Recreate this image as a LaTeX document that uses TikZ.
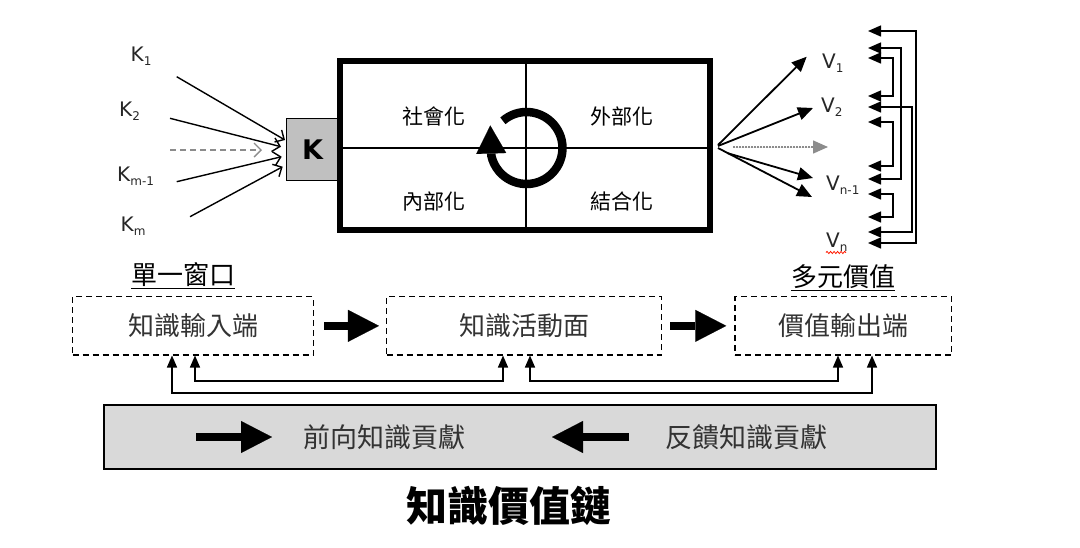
\documentclass[tikz,border=0pt]{standalone}
\usepackage{fontspec}
\setmainfont{DejaVu Sans}
\newfontfamily\cjk{Noto Sans CJK TC}
\usetikzlibrary{arrows.meta,decorations.pathmorphing,calc}
\newcommand{\fsz}[1]{\fontsize{#1pt}{#1pt}\selectfont}
\newcommand{\subt}[1]{\raisebox{-0.2em}{\fsz{12}#1}}
\definecolor{boxgray}{HTML}{C0C0C0}
\definecolor{bandgray}{HTML}{D9D9D9}
\definecolor{txtgray}{HTML}{333333}
\begin{document}
\begin{tikzpicture}[x=1pt,y=-1pt,
  lbl/.style={font=\fsz{20}, inner sep=0pt, anchor=base west, text=black!85},
  thinline/.style={line width=1.2pt},
  kin/.style={line width=1.4pt, -{Straight Barb[length=7pt,width=14pt]}},
  fan/.style={line width=1.8pt, -{Triangle[length=15pt,width=13pt]}},
  brk/.style={line width=1.4pt, {Triangle[length=13pt,width=11pt]}-{Triangle[length=13pt,width=11pt]}},
  fb/.style={line width=1.4pt, {Triangle[length=12pt,width=10pt]}-{Triangle[length=12pt,width=10pt]}},
  bigarrow/.style={line width=8.5pt, -{Triangle[length=31pt,width=32pt,line width=0.1pt]}},
  quad/.style={font=\cjk\fsz{21}, inner sep=0pt},
  dbox/.style={draw, line width=1.5pt, dash pattern=on 6pt off 4pt, minimum height=58.3pt, inner sep=0pt},
  btxt/.style={font=\cjk\fsz{26}, text=txtgray},
]
\useasboundingbox (0,0) rectangle (1080,547);

% ---------- K box and main box ----------
\node[draw, thinline, fill=boxgray, minimum width=51.6pt, minimum height=62.4pt, inner sep=0pt,
      font=\bfseries\fsz{27}] (kbox) at (312.5,149.5) {K};
\node[draw, line width=6pt, minimum width=370.3pt, minimum height=168.7pt, inner sep=0pt] (main) at (524.85,145.65) {};
\draw[thinline] (526,61.3) -- (526,230);
\draw[thinline] (339.7,148) -- (710,148);

\node[quad] (q1) at (433.5,116) {社會化};
\node[quad] (q2) at (622,116) {外部化};
\node[quad] (q3) at (433.5,201.5) {內部化};
\node[quad] (q4) at (622,201.5) {結合化};

% cycle arrow
\coordinate (cc) at (526.5,148);
\draw[line width=8.5pt, -{Triangle[length=28pt,width=30pt,line width=0.1pt]}]
  ($(cc)+(-131:36)$) arc[start angle=-131, end angle=168, radius=36] -- ++(-1,-30);

% ---------- K inputs ----------
\node[lbl] (k1) at (130.5,61.7) {K\subt{1}};
\node[lbl] (k2) at (119,116.7) {K\subt{2}};
\node[lbl] (k3) at (117,181.7) {K\subt{m-1}};
\node[lbl] (k4) at (120.5,231.7) {K\subt{m}};

\coordinate (ka1) at (176.7,76.7);  \coordinate (ke1) at (285,140);
\coordinate (ka2) at (170,118.3);   \coordinate (ke2) at (281,146.7);
\coordinate (kad) at (170,150);     \coordinate (ked) at (262,150);
\coordinate (ka3) at (176.7,181.7); \coordinate (ke3) at (281.7,156.7);
\coordinate (ka4) at (190,216.7);   \coordinate (ke4) at (282.7,166.7);
\draw[kin] (ka1) -- (ke1);
\draw[kin] (ka2) -- (ke2);
\draw[kin, draw=black!45, dash pattern=on 6pt off 4pt] (kad) -- (ked);
\draw[kin] (ka3) -- (ke3);
\draw[kin] (ka4) -- (ke4);

% ---------- V outputs ----------
\node[lbl] (v1) at (822,68) {V\subt{1}};
\node[lbl] (v2) at (821,112) {V\subt{2}};
\node[lbl] (v3) at (826,190) {V\subt{n-1}};
\node[lbl] (v4) at (826,247) {V\subt{n}};
\draw[red!80!orange, line width=0.8pt, decorate, decoration={snake, amplitude=1.1pt, segment length=3.5pt}] (826,252.5) -- (846,252.5);

\coordinate (vs1) at (718,145); \coordinate (ve1) at (806.7,56.7);
\coordinate (vs2) at (718,146); \coordinate (ve2) at (813,108);
\coordinate (vsd) at (733,147); \coordinate (ved) at (828,147);
\coordinate (vs3) at (727,153); \coordinate (ve3) at (813,178);
\coordinate (vs4) at (718,148); \coordinate (ve4) at (812,197);
\draw[fan] (vs1) -- (ve1);
\draw[fan] (vs2) -- (ve2);
\draw[fan, draw=black!45, fill=black!45, line width=1.5pt, dash pattern=on 2pt off 1pt] (vsd) -- (ved);
\draw[fan] (vs3) -- (ve3);
\draw[fan] (vs4) -- (ve4);

% bracket feedback arrows
\foreach \i/\yy in {1/31,2/48,3/58,4/96,5/107,6/122,7/166,8/179,9/194,10/217,11/232,12/243}
  \coordinate (t\i) at (868,\yy);
\draw[brk] (t1) -- (916,31) -- (916,243) -- (t12);
\draw[brk] (t2) -- (901,48) -- (901,179) -- (t8);
\draw[brk] (t3) -- (893,58) -- (893,96) -- (t4);
\draw[brk] (t5) -- (912,107) -- (912,232) -- (t11);
\draw[brk] (t6) -- (893,122) -- (893,166) -- (t7);
\draw[brk] (t9) -- (893,194) -- (893,217) -- (t10);

% ---------- value chain boxes ----------
\node[font=\cjk\fsz{26}, inner sep=0pt] (h1) at (183.3,276) {\underline{單一窗口}};
\node[font=\cjk\fsz{26}, inner sep=0pt] (h2) at (843.3,278) {\underline{多元價值}};

\node[dbox, minimum width=240.6pt] (b1) at (193,325.85) {};
\node[dbox, minimum width=275pt] (b2) at (524.2,325.85) {};
\node[dbox, minimum width=216.7pt] (b3) at (843.35,325.85) {};
\node[btxt] at (b1) {知識輸入端};
\node[btxt] at (b2) {知識活動面};
\node[btxt] at (b3) {價值輸出端};

\draw[bigarrow, shorten <=10pt, shorten >=7pt] (b1.east) -- (b2.west);
\draw[bigarrow, shorten <=8pt, shorten >=8pt] (b2.east) -- (b3.west);

% feedback loops under boxes
\coordinate (fA1) at (195,355.5); \coordinate (fA2) at (503,355.5);
\coordinate (fB1) at (530,355.5); \coordinate (fB2) at (838,355.5);
\coordinate (fC1) at (172,355.5); \coordinate (fC2) at (872,355.5);
\draw[fb] (fA1) -- (195,381) -- (503,381) -- (fA2);
\draw[fb] (fB1) -- (530,381) -- (838,381) -- (fB2);
\draw[fb] (fC1) -- (172,393) -- (872,393) -- (fC2);

% ---------- legend band ----------
\node[draw, thinline, fill=bandgray, minimum width=832pt, minimum height=64pt, inner sep=0pt] (band) at (520,437) {};
\coordinate (ga1) at (196,437); \coordinate (ga2) at (272,437);
\coordinate (gb1) at (629,437); \coordinate (gb2) at (552,437);
\draw[bigarrow] (ga1) -- (ga2);
\draw[bigarrow] (gb1) -- (gb2);
\node[btxt, font=\cjk\fsz{27}] (lg1) at (384,437) {前向知識貢獻};
\node[btxt, font=\cjk\fsz{27}] (lg2) at (746.5,437) {反饋知識貢獻};

% ---------- title ----------
\node[font=\cjk\bfseries\fsz{41}, inner sep=0pt] (title) at (509,506) {知識價值鏈};
\end{tikzpicture}
\end{document}
